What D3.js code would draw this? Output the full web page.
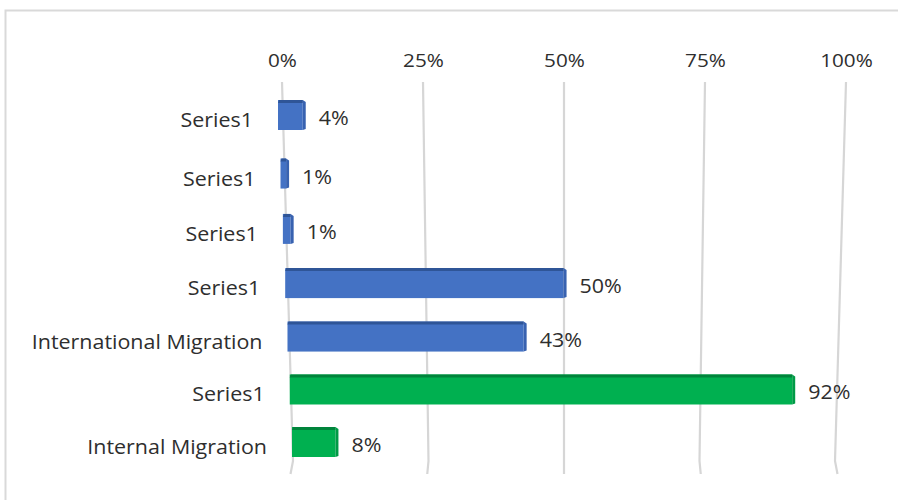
<!DOCTYPE html>
<html>
<head>
<meta charset="utf-8">
<script src="https://cdn.jsdelivr.net/npm/d3@7"></script>
<style>
  body { margin: 0; background: #fff; }
  svg text { font-family: "Open Sans", sans-serif; fill: #2e2e2e; }
</style>
</head>
<body>
<div id="chart"></div>
<script>
// chart data, top row first
const categories = ["Series1", "Series1", "Series1", "Series1", "International Migration", "Series1", "Internal Migration"];
const values = [0.044, 0.01, 0.014, 0.504, 0.43, 0.92, 0.08];
const groups = ["blue", "blue", "blue", "blue", "blue", "green", "green"];
const tickValues = [0, 0.25, 0.5, 0.75, 1];
const tickLabels = ["0%", "25%", "50%", "75%", "100%"];

const width = 898, height = 500;
const palette = {
    blue: { front: "#4472c4", top: "#2f5597", side: "#3862b0" },
    green: { front: "#00b050", top: "#00843b", side: "#009a46" }
};

const svg = d3.select("#chart").append("svg")
    .attr("width", width)
    .attr("height", height);

// chart area border
svg.append("rect")
    .attr("x", 5.5).attr("y", 10.5)
    .attr("width", width + 20).attr("height", height + 20)
    .attr("fill", "#fff")
    .attr("stroke", "#d9d9d9")
    .attr("stroke-width", 2);

// the floor is seen in perspective: gridlines lean, rows get closer going down
const gridTop = 82, gridBottom = 461, hookBottom = 474;
const left0 = d3.scaleLinear().domain([gridTop, gridBottom]).range([282, 293]);
const right100 = d3.scaleLinear().domain([gridTop, gridBottom]).range([846, 835]);
const xAt = y => d3.scaleLinear().domain([0, 1]).range([left0(y), right100(y)]);

const yScale = d3.scalePow().exponent(0.96)
    .domain([0, categories.length - 1])
    .range([115, 442]);
const barH = 30;

// bars start on a slightly steeper line than the 0% gridline
const barLeft = d3.scaleLinear().domain([115, 442]).range([278, 292]);
const labelRight = d3.scaleLinear().domain([115, 442]).range([253, 267]);

// gridlines
const line = d3.line().x(d => d[0]).y(d => d[1]);
svg.append("g").selectAll("path")
    .data(tickValues)
    .enter()
    .append("path")
    .attr("d", t => {
        const xb = xAt(gridBottom)(t);
        return line([
            [xAt(gridTop)(t), gridTop],
            [xb, gridBottom],
            [xb + (t - 0.5) * 5, hookBottom]
        ]);
    })
    .attr("fill", "none")
    .attr("stroke", "#d6d6d6")
    .attr("stroke-width", 2.2);

// top axis labels
const axis = svg.append("g")
    .attr("transform", "translate(0," + 67 + ")")
    .call(d3.axisTop(xAt(gridTop))
        .tickValues(tickValues)
        .tickFormat((d, i) => tickLabels[i])
        .tickSize(0)
        .tickPadding(0));
axis.select(".domain").remove();
axis.selectAll("text")
    .attr("font-family", "Open Sans")
    .attr("font-size", 18)
    .attr("fill", "#2e2e2e")
    .attr("dy", 0)
    .attr("transform", "scale(1.15,1)");

// bars
const rows = categories.map((c, i) => {
    const yc = yScale(i);
    const bl = barLeft(yc);
    const span = right100(yc) - left0(yc);
    const xs = d3.scaleLinear().domain([0, 1]).range([bl, bl + span]);
    return { cat: c, v: values[i], g: groups[i], yc: yc, x0: xs(0), x1: xs(values[i]) };
});

const bars = svg.append("g").selectAll("g")
    .data(rows)
    .enter()
    .append("g");

bars.append("rect")
    .attr("x", d => d.x0)
    .attr("y", d => d.yc - barH / 2)
    .attr("width", d => d.x1 - d.x0)
    .attr("height", barH)
    .attr("fill", d => palette[d.g].front);

// top face
bars.append("path")
    .attr("d", d => {
        const t = d.yc - barH / 2;
        return `M${d.x0},${t + 3} L${d.x0 + 1},${t} L${d.x1},${t} L${d.x1},${t + 3} Z`;
    })
    .attr("fill", d => palette[d.g].top);

// right side face
bars.append("path")
    .attr("d", d => {
        const t = d.yc - barH / 2, b = d.yc + barH / 2;
        return `M${d.x1},${t} L${d.x1 + 3},${t + 2} L${d.x1 + 3},${b - 1} L${d.x1},${b} Z`;
    })
    .attr("fill", d => palette[d.g].side);

// value labels
svg.append("g").selectAll("text")
    .data(rows)
    .enter()
    .append("text")
    .attr("transform", d => "translate(" + (d.x1 + 16) + "," + (d.yc + 10) + ") scale(1.1,1)")
    .attr("font-size", 19.5)
    .text(d => d3.format(".0%")(d.v));

// category labels
svg.append("g").selectAll("text")
    .data(rows)
    .enter()
    .append("text")
    .attr("transform", d => "translate(" + labelRight(d.yc) + "," + (d.yc + 12) + ") scale(1.1,1)")
    .attr("text-anchor", "end")
    .attr("font-size", 19.5)
    .text(d => d.cat);
</script>
</body>
</html>
